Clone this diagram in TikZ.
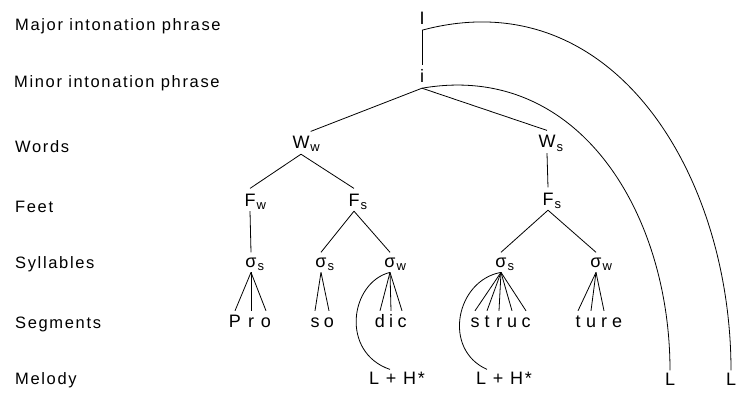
\documentclass[tikz,border=0pt]{standalone}
\usepackage{fontspec}
\setmainfont{Liberation Sans}
\newfontfamily\levelfont[LetterSpace=10]{Liberation Sans}
\newfontfamily\tunefont[LetterSpace=10]{Liberation Sans}
\usetikzlibrary{calc}

% subscript that takes no room, so a node is centred on its main letter
\newcommand\subx[1]{\rlap{\raisebox{-3pt}[0pt][0pt]{\fontsize{13}{13}\selectfont\kern1pt #1}}}

\begin{document}
\begin{tikzpicture}[x=1pt,y=-1pt,
  lvl/.style={anchor=base west, inner sep=0pt, font=\levelfont\fontsize{16.5}{18}\selectfont},
  tn/.style={anchor=base, inner xsep=1pt, inner ysep=5pt, font=\fontsize{18}{20}\selectfont},
  seg/.style={anchor=base, inner xsep=0.5pt, inner ysep=4pt, text height=12pt, text depth=0pt,
              font=\fontsize{18}{20}\selectfont},
  tune/.style={anchor=base, inner sep=2pt, font=\tunefont\fontsize{18}{20}\selectfont},
  link/.style={line width=0.8pt}]
\useasboundingbox (0,0) rectangle (736,393);

% level names
\node[lvl] (lMaj) at (15,31)  {Major intonation phrase};
\node[lvl] (lMin) at (14,88)  {Minor intonation phrase};
\node[lvl] (lWd)  at (15,153) {Words};
\node[lvl] (lFt)  at (15,212) {Feet};
\node[lvl] (lSy)  at (15,268) {Syllables};
\node[lvl] (lSg)  at (15,328) {Segments};
\node[lvl] (lMl)  at (15,384) {Melody};

% prosodic tree
\node[tn] (I)   at (422,25)  {I};
\node[tn] (i)   at (422,83)  {i};
\node[tn] (Ww)  at (301,149) {W\subx{w}};
\node[tn] (Ws)  at (547,148) {W\subx{s}};
\node[tn] (Fw)  at (250,206) {F\subx{w}};
\node[tn] (Fs)  at (354,206) {F\subx{s}};
\node[tn] (Fs2) at (548,205) {F\subx{s}};
\node[tn] (s1)  at (251,267) {σ\subx{s}};
\node[tn] (s2)  at (321,267) {σ\subx{s}};
\node[tn] (s3)  at (390,267) {σ\subx{w}};
\node[tn] (s4)  at (501,267) {σ\subx{s}};
\node[tn] (s5)  at (596,267) {σ\subx{w}};

% segments
\node[seg] (aP) at (235,327) {P};
\node[seg] (aR) at (251,327) {r};
\node[seg] (aO) at (266,327) {o};
\node[seg] (bS) at (315,327) {s};
\node[seg] (bO) at (329,327) {o};
\node[seg] (cD) at (380,327) {d};
\node[seg] (cI) at (391,327) {i};
\node[seg] (cC) at (402,327) {c};
\node[seg] (dS) at (475,327) {s};
\node[seg] (dT) at (487,327) {t};
\node[seg] (dR) at (499,327) {r};
\node[seg] (dU) at (512,327) {u};
\node[seg] (dC) at (526,327) {c};
\node[seg] (eT) at (578,327) {t};
\node[seg] (eU) at (591,327) {u};
\node[seg] (eR) at (604,327) {r};
\node[seg] (eE) at (617,327) {e};

% melody
\node[tune] (t1) at (397,384) {L + H*};
\node[tune] (t2) at (504,384) {L + H*};
\node[tune] (L1) at (670,385) {L};
\node[tune] (L2) at (731,385) {L};

% tree branches
\draw[link] (I.south) -- (i.north);
\draw[link] (i.south) -- (Ww.north east);
\draw[link] (i.south) -- (Ws.north);
\draw[link] (Ww.south) -- (Fw.north);
\draw[link] (Ww.south) -- (Fs.north);
\draw[link] (Ws.south) -- (Fs2.north);
\draw[link] (Fw.south) -- (s1.north);
\draw[link] (Fs.south) -- (s2.north);
\draw[link] (Fs.south) -- (s3.north);
\draw[link] (Fs2.south) -- (s4.north);
\draw[link] (Fs2.south) -- (s5.north);

% syllables to segments
\foreach \t in {aP,aR,aO} \draw[link] (s1.south) -- (\t.north);
\foreach \t in {bS,bO} \draw[link] (s2.south) -- (\t.north);
\foreach \t in {cD,cI,cC} \draw[link] (s3.south) -- (\t.north);
\foreach \t in {dS,dT,dR,dU,dC} \draw[link] (s4.south) -- (\t.north);
\foreach \t in {eT,eU,eR} \draw[link] (s5.south) -- (\t.north);

% pitch accents
\draw[link] (s3.south) .. controls +(-40,10) and +(-50,-17) .. ([xshift=-7pt]t1.north);
\draw[link] (s4.south) .. controls +(-45,8) and +(-45,-20) .. ([xshift=-17pt]t2.north);

% boundary tones
\draw[link] (i.south) .. controls +(156,-27) and +(0,-158) .. (L1.north);
\draw[link] (I.south) .. controls +(190,-51) and +(0,-197) .. (L2.north);
\end{tikzpicture}
\end{document}
